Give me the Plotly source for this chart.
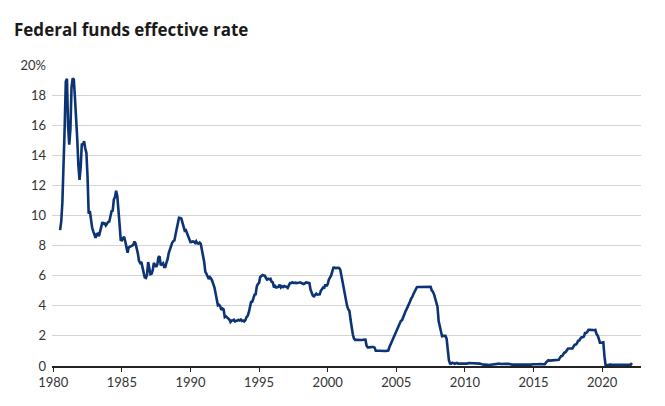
import plotly.graph_objects as go

# Monthly federal funds effective rate, Jul 1980 - Mar 2022 (percent)
start_year = 1980
start_month = 7

rates_1980s = [
    9.03, 9.61, 10.87, 12.81, 15.85, 18.90,
    19.08, 15.93, 14.70, 15.72, 18.52, 19.10, 19.04, 17.82, 15.87, 15.08, 13.31, 12.37,
    13.22, 14.78, 14.68, 14.94, 14.45, 14.15, 12.59, 10.12, 10.31, 9.71, 9.20, 8.95,
    8.68, 8.51, 8.77, 8.80, 8.63, 8.98, 9.37, 9.56, 9.45, 9.48, 9.34, 9.47,
    9.56, 9.59, 9.91, 10.29, 10.32, 11.06, 11.23, 11.64, 11.30, 9.99, 9.43, 8.38,
    8.35, 8.50, 8.58, 8.27, 7.97, 7.53, 7.88, 7.90, 7.92, 7.99, 8.05, 8.27,
    8.14, 7.86, 7.48, 6.99, 6.85, 6.92, 6.56, 6.17, 5.89, 5.85, 6.04, 6.91,
    6.43, 6.10, 6.13, 6.37, 6.85, 6.73, 6.58, 6.73, 7.22, 7.29, 6.69, 6.77,
    6.83, 6.58, 6.58, 6.87, 7.09, 7.51, 7.75, 8.01, 8.19, 8.30, 8.35, 8.76,
    9.12, 9.36, 9.85, 9.84, 9.81, 9.53, 9.24, 8.99, 9.02, 8.84, 8.55, 8.45,
]
rates_1990s = [
    8.23, 8.24, 8.28, 8.26, 8.18, 8.29, 8.15, 8.13, 8.20, 8.11, 7.81, 7.31,
    6.91, 6.25, 6.12, 5.91, 5.78, 5.90, 5.82, 5.66, 5.45, 5.21, 4.81, 4.43,
    4.03, 4.06, 3.98, 3.73, 3.82, 3.76, 3.25, 3.30, 3.22, 3.10, 3.09, 2.92,
    3.02, 3.03, 3.07, 2.96, 3.00, 3.04, 3.06, 3.03, 3.09, 2.99, 3.02, 2.96,
    3.05, 3.25, 3.34, 3.56, 4.01, 4.25, 4.26, 4.47, 4.73, 4.76, 5.29, 5.45,
    5.53, 5.92, 5.98, 6.05, 6.01, 6.00, 5.85, 5.74, 5.80, 5.76, 5.80, 5.60,
    5.56, 5.22, 5.31, 5.22, 5.24, 5.27, 5.40, 5.22, 5.30, 5.24, 5.31, 5.29,
    5.25, 5.19, 5.39, 5.51, 5.50, 5.56, 5.52, 5.54, 5.54, 5.50, 5.52, 5.50,
    5.56, 5.51, 5.49, 5.45, 5.49, 5.56, 5.54, 5.55, 5.51, 5.07, 4.83, 4.68,
    4.63, 4.76, 4.81, 4.74, 4.74, 4.76, 4.99, 5.07, 5.22, 5.20, 5.42, 5.30,
]
rates_2000s = [
    5.45, 5.73, 5.85, 6.02, 6.27, 6.53, 6.54, 6.50, 6.52, 6.51, 6.51, 6.40,
    5.98, 5.49, 5.31, 4.80, 4.21, 3.97, 3.77, 3.65, 3.07, 2.49, 2.09, 1.82,
    1.73, 1.74, 1.73, 1.75, 1.75, 1.75, 1.73, 1.74, 1.75, 1.75, 1.34, 1.24,
    1.24, 1.26, 1.25, 1.26, 1.26, 1.22, 1.01, 1.03, 1.01, 1.01, 1.00, 0.98,
    1.00, 1.01, 1.00, 1.00, 1.00, 1.03, 1.26, 1.43, 1.61, 1.76, 1.93, 2.16,
    2.28, 2.50, 2.63, 2.79, 3.00, 3.04, 3.26, 3.50, 3.62, 3.78, 4.00, 4.16,
    4.29, 4.49, 4.59, 4.79, 4.94, 4.99, 5.24, 5.25, 5.25, 5.25, 5.25, 5.24,
    5.25, 5.26, 5.26, 5.25, 5.25, 5.25, 5.26, 5.02, 4.94, 4.76, 4.49, 4.24,
    3.94, 2.98, 2.61, 2.28, 1.98, 2.00, 2.01, 2.00, 1.81, 0.97, 0.39, 0.16,
    0.15, 0.22, 0.18, 0.15, 0.18, 0.21, 0.16, 0.16, 0.15, 0.12, 0.12, 0.12,
]
rates_2010s = [
    0.11, 0.13, 0.16, 0.20, 0.20, 0.18, 0.18, 0.19, 0.19, 0.19, 0.19, 0.18,
    0.17, 0.16, 0.14, 0.10, 0.09, 0.09, 0.07, 0.10, 0.08, 0.07, 0.08, 0.07,
    0.08, 0.10, 0.13, 0.14, 0.16, 0.16, 0.16, 0.13, 0.14, 0.16, 0.16, 0.16,
    0.14, 0.15, 0.14, 0.15, 0.11, 0.09, 0.09, 0.08, 0.08, 0.09, 0.08, 0.09,
    0.07, 0.07, 0.08, 0.09, 0.09, 0.10, 0.09, 0.09, 0.09, 0.09, 0.09, 0.12,
    0.11, 0.11, 0.11, 0.12, 0.12, 0.13, 0.13, 0.14, 0.14, 0.12, 0.12, 0.24,
    0.34, 0.38, 0.36, 0.37, 0.37, 0.38, 0.39, 0.40, 0.40, 0.40, 0.41, 0.54,
    0.65, 0.66, 0.79, 0.90, 0.91, 1.04, 1.15, 1.16, 1.15, 1.15, 1.16, 1.30,
    1.41, 1.42, 1.51, 1.69, 1.70, 1.82, 1.91, 1.91, 1.95, 2.19, 2.20, 2.27,
    2.40, 2.40, 2.41, 2.42, 2.39, 2.38, 2.40, 2.13, 2.04, 1.83, 1.55, 1.55,
]
rates_2020s = [
    1.55, 1.58, 0.65, 0.05, 0.05, 0.08, 0.09, 0.10, 0.09, 0.09, 0.09, 0.09,
    0.09, 0.08, 0.07, 0.07, 0.06, 0.08, 0.10, 0.09, 0.08, 0.08, 0.08, 0.08,
    0.08, 0.08, 0.20,
]

x_tick_vals = [1980, 1985, 1990, 1995, 2000, 2005, 2010, 2015, 2020]
x_tick_text = ["1980", "1985", "1990", "1995", "2000", "2005", "2010", "2015", "2020"]
y_tick_vals = [0, 2, 4, 6, 8, 10, 12, 14, 16, 18, 20]
y_tick_text = ["0", "2", "4", "6", "8", "10", "12", "14", "16", "18", "20%"]
title_text = "Federal funds effective rate"

rates = rates_1980s + rates_1990s + rates_2000s + rates_2010s + rates_2020s
x_vals = [start_year + (start_month - 1 + i) / 12 for i in range(len(rates))]

# page body has an 8px default margin, so the figure is sized to fit inside it
W, H = 657, 398

fig = go.Figure()
fig.add_trace(go.Scatter(
    x=x_vals, y=rates, mode="lines",
    line=dict(color="#0c3474", width=2.6),
    hoverinfo="skip",
))

fig.update_layout(
    width=W, height=H,
    margin=dict(l=40, r=24, t=57, b=40),
    paper_bgcolor="white", plot_bgcolor="white",
    showlegend=False,
    font=dict(family="Lato, sans-serif", size=13, color="#333333"),
    title=dict(
        text="<b>" + title_text + "</b>",
        x=6 / W, xref="container", xanchor="left",
        y=1 - 22 / H, yref="container", yanchor="middle",
        font=dict(family="Open Sans, sans-serif", size=17, color="#1a1a1a"),
    ),
    xaxis=dict(
        range=[1979.91, 2022.83],
        tickmode="array", tickvals=x_tick_vals, ticktext=x_tick_text,
        ticks="outside", ticklen=4, tickwidth=1.2, tickcolor="#222222",
        showline=True, linecolor="#222222", linewidth=1.5,
        showgrid=False, zeroline=False,
    ),
    yaxis=dict(
        range=[0, 20],
        tickmode="array", tickvals=y_tick_vals, ticktext=y_tick_text,
        showgrid=True, gridcolor="#d4d4d4", gridwidth=1,
        zeroline=False, showline=False, ticks="",
        ticklabelstandoff=5,
    ),
)

fig.write_html("out.html")
